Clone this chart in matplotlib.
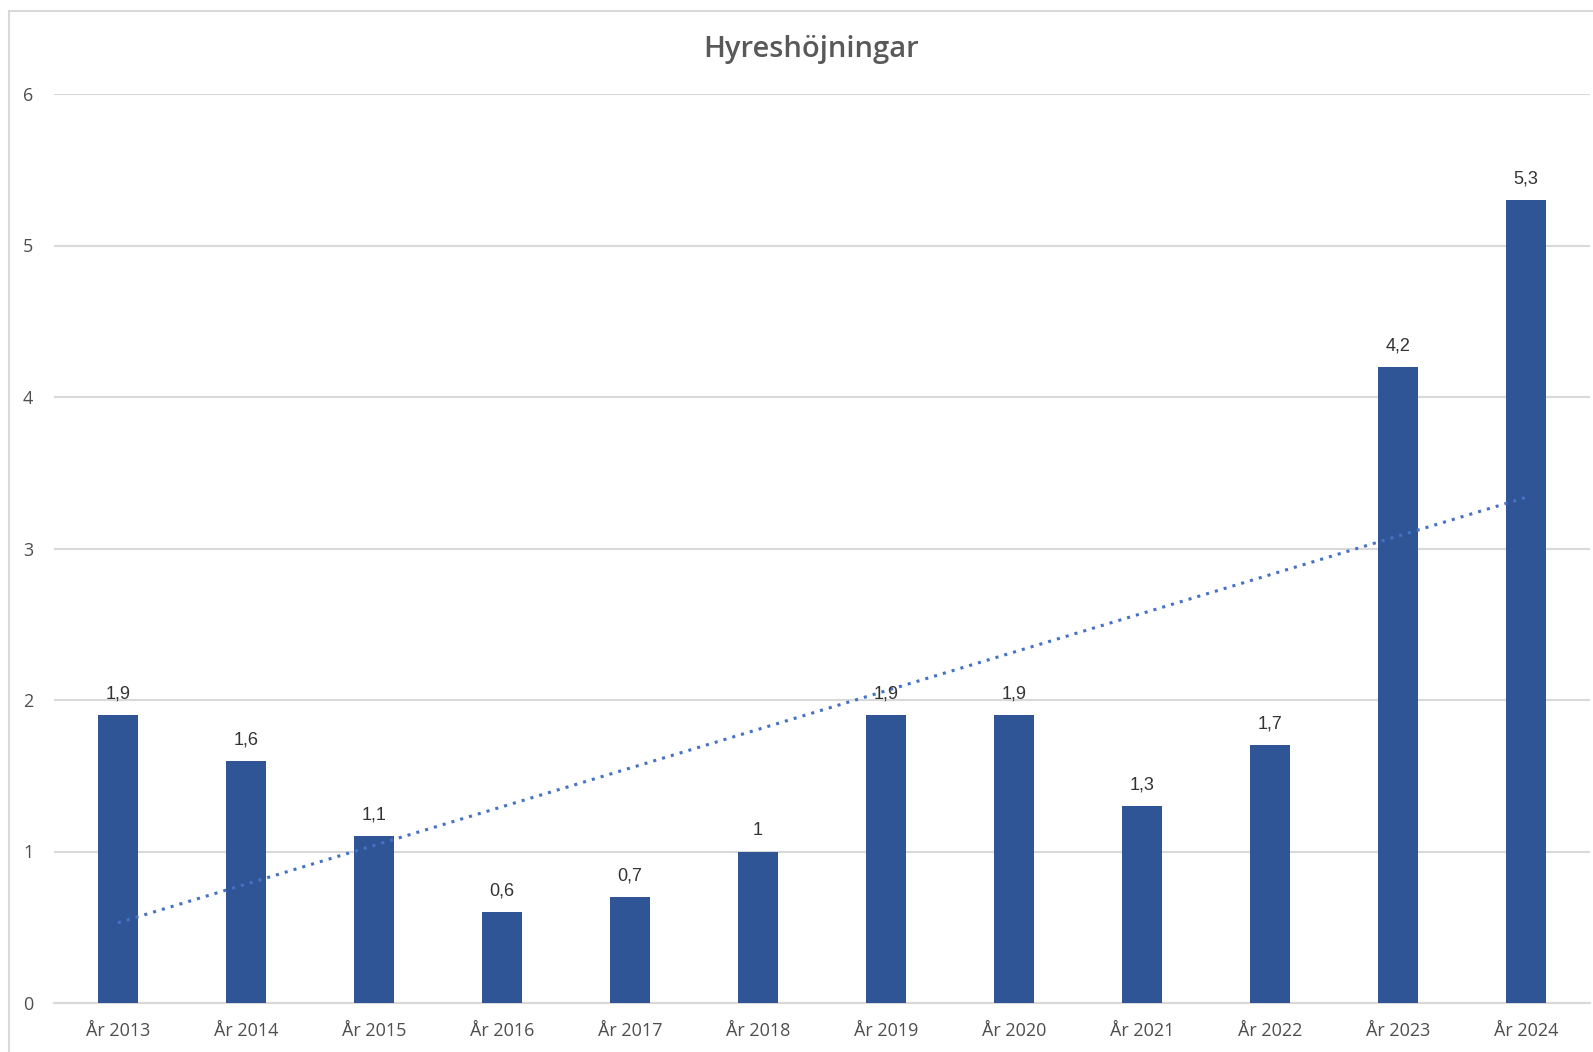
import numpy as np
import matplotlib
matplotlib.use("Agg")
import matplotlib.pyplot as plt
from matplotlib.patches import Rectangle

categories = ["År 2013", "År 2014", "År 2015", "År 2016", "År 2017", "År 2018",
              "År 2019", "År 2020", "År 2021", "År 2022", "År 2023", "År 2024"]
values = [1.9, 1.6, 1.1, 0.6, 0.7, 1.0, 1.9, 1.9, 1.3, 1.7, 4.2, 5.3]
yticks = [0, 1, 2, 3, 4, 5, 6]
title = "Hyreshöjningar"

W, H = 1593, 1052
fig = plt.figure(figsize=(W / 100, H / 100), dpi=100)
fig.patch.set_facecolor("white")

# chart border (right/bottom run off the image)
fig.patches.append(Rectangle((9 / W, -0.05), 1.2, 1 - 11 / H + 0.05,
                             transform=fig.transFigure, fill=False,
                             edgecolor="#D9D9D9", linewidth=1.5))

left, right = 54 / W, 1590 / W
bottom, top = 1 - 1003 / H, 1 - 94 / H
ax = fig.add_axes([left, bottom, right - left, top - bottom])

x = np.arange(len(categories))
bar_color = "#2F5597"
bars = ax.bar(x, values, width=0.31, color=bar_color, zorder=3)

# linear trend line
coef = np.polyfit(x, values, 1)
trend = np.polyval(coef, x)
ax.plot(x, trend, linestyle=(0, (1, 2)), color="#4472C4", linewidth=2.2, zorder=4)

for xi, v in zip(x, values):
    label = f"{v:g}".replace(".", ",")
    ax.annotate(label, (xi, v), xytext=(0, 9), textcoords="offset points",
                ha="center", va="bottom", fontsize=13, color="#333333",
                family="Liberation Sans", zorder=5)

ax.set_xlim(-0.5, len(categories) - 0.5)
ax.set_ylim(0, 6)
ax.set_yticks(yticks)
ax.set_yticklabels([str(t) for t in yticks])
ax.set_xticks(x)
ax.set_xticklabels(categories)
ax.yaxis.grid(True, color="#D9D9D9", linewidth=1.5, zorder=0)
ax.set_axisbelow(True)
for s in ["top", "right", "left"]:
    ax.spines[s].set_visible(False)
ax.spines["bottom"].set_color("#D9D9D9")
ax.spines["bottom"].set_linewidth(1.5)
ax.tick_params(axis="both", length=0, labelsize=13, labelcolor="#4F4F4F")
ax.tick_params(axis="y", pad=15)
ax.tick_params(axis="x", pad=14)
for lab in ax.get_xticklabels() + ax.get_yticklabels():
    lab.set_family("Open Sans")
    lab.set_fontweight("medium")

fig.text(811 / W, 1 - 50 / H, title, ha="center", va="center",
         fontsize=21, color="#595959", family="Open Sans", fontweight="semibold")

fig.savefig("out.png", dpi=100)
